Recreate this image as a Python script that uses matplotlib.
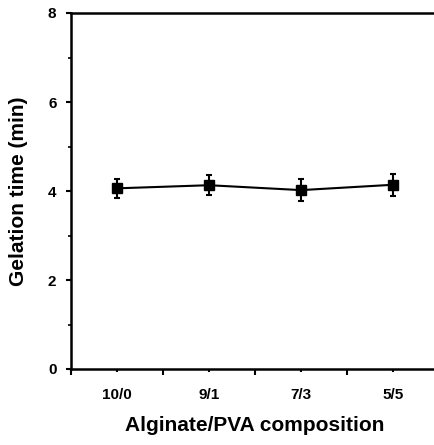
import matplotlib
matplotlib.use("Agg")
import matplotlib.pyplot as plt
import numpy as np
from matplotlib.ticker import MultipleLocator, FixedLocator

plt.rcParams['font.family'] = ['Liberation Sans', 'DejaVu Sans']

compositions = ["10/0", "9/1", "7/3", "5/5"]
gel_time = [4.06, 4.13, 4.02, 4.14]
gel_err = [0.22, 0.22, 0.24, 0.25]

fig = plt.figure(figsize=(4.35, 4.45), dpi=100)
ax = fig.add_axes([71 / 435, 1 - 369 / 445, 368 / 435, 356 / 445])

x = np.arange(len(compositions)) + 0.5
ax.errorbar(x, gel_time, yerr=gel_err, color='black', marker='s', markersize=6.5,
            linewidth=1.5, elinewidth=1.5, capsize=2.5, capthick=1.5)

ax.set_xlim(0, len(compositions))
ax.set_ylim(0, 8)

ax.xaxis.set_major_locator(FixedLocator(np.arange(len(compositions) + 1)))
ax.xaxis.set_minor_locator(FixedLocator(x))
ax.set_xticklabels([])
ax.set_xticklabels(compositions, minor=True, fontsize=11, fontweight='bold')
ax.set_yticks([0, 2, 4, 6, 8])
ax.set_yticklabels(["0", "2", "4", "6", "8"], fontsize=11, fontweight='bold')
ax.yaxis.set_minor_locator(MultipleLocator(1))

ax.tick_params(axis='x', which='major', direction='out', length=4.5, width=1.5)
ax.tick_params(axis='x', which='minor', direction='out', length=2.5, width=1.5, pad=11)
ax.tick_params(axis='y', which='major', direction='out', length=3.5, width=1.5, pad=7)
ax.tick_params(axis='y', which='minor', direction='out', length=2.5, width=1.2)

for side in ['left', 'bottom', 'top']:
    ax.spines[side].set_linewidth(1.8)
ax.spines['right'].set_visible(False)

ax.set_xlabel("Alginate/PVA composition", fontsize=15, fontweight='bold', labelpad=10)
ax.set_ylabel("Gelation time (min)", fontsize=15, fontweight='bold', labelpad=14)

fig.savefig("out.png", dpi=100)
